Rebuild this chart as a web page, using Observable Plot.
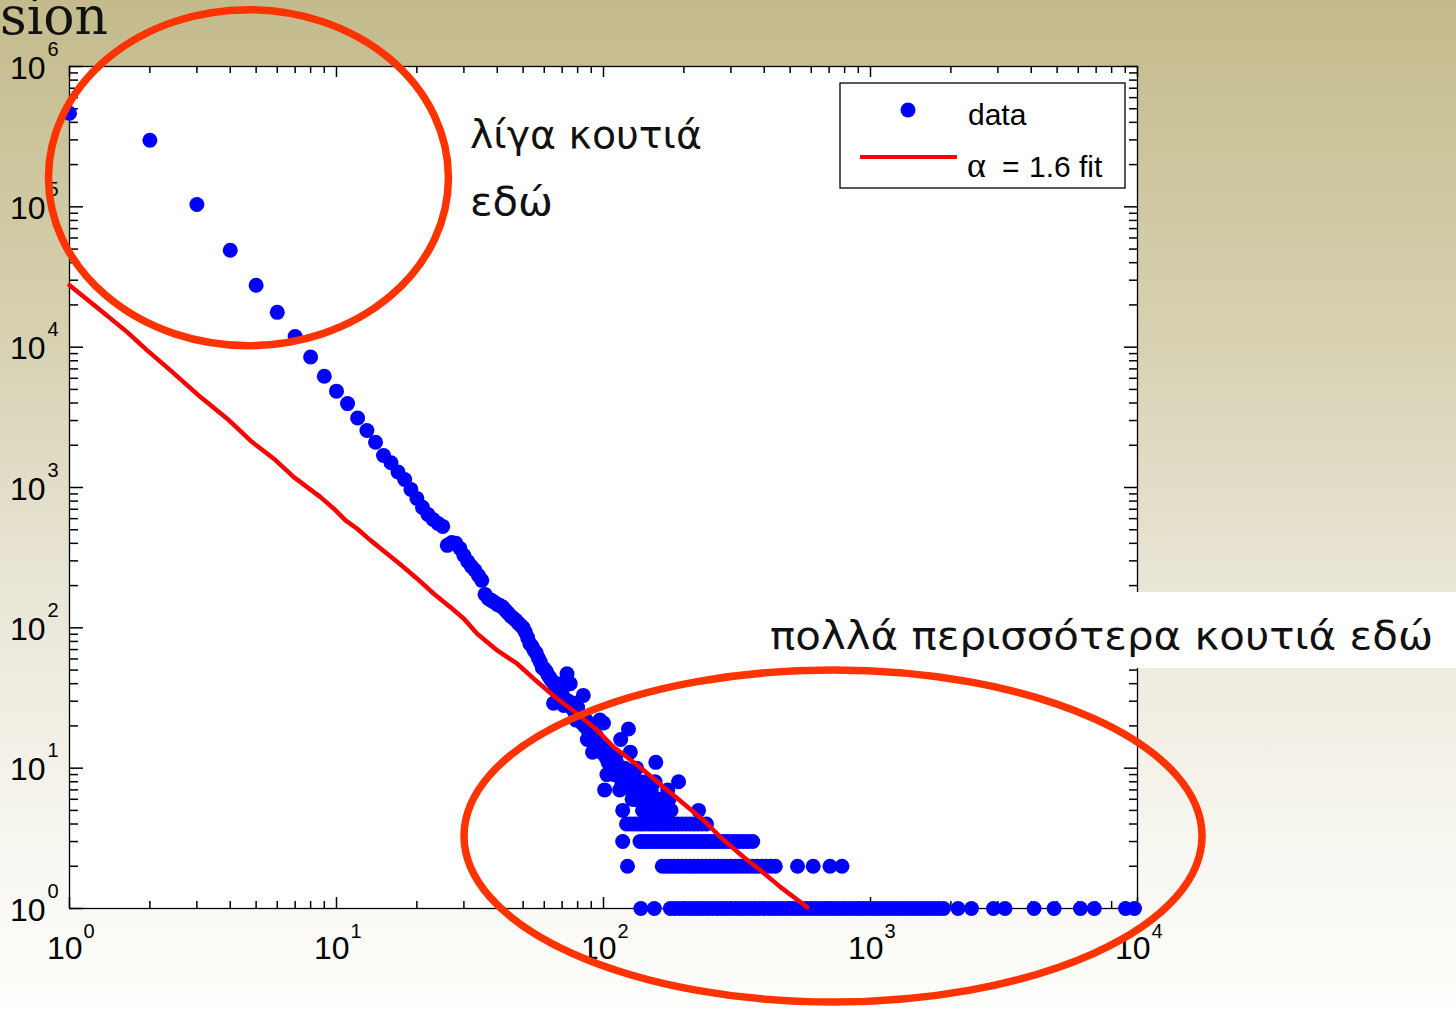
<!DOCTYPE html>
<html>
<head>
<meta charset="utf-8">
<script src="https://cdn.jsdelivr.net/npm/d3@7"></script>
<script src="https://cdn.jsdelivr.net/npm/@observablehq/plot@0.6"></script>
<style>
  html, body { margin: 0; padding: 0; }
  body {
    width: 1456px; height: 1009px; overflow: hidden; position: relative;
    background: linear-gradient(to bottom, #c3bb8b 0%, #d7d1b1 33%, #ebe7d9 60%, #f8f7f1 85%, #fefefc 100%);
    font-family: "Liberation Sans", Arial, sans-serif;
  }
  #chart { position: absolute; left: 0; top: 0; }
</style>
</head>
<body>
<div id="chart"></div>
<script>
// Degree histogram: head of the distribution, one count per integer degree k
const headK = [1,2,3,4,5,6,7,8,9,10,11,12,13,14,15,16,17,18,19,20,21,22,23,24,25,26,27,28,29,30,
  31,32,33,34,35,36,37,38,39,40,41,42,43,44,45,46,47,48,49,50,51,52,53,54,55,56,57,58,59,60,61,62];
const headN = [464000,298000,104000,49000,27600,17700,11900,8500,6200,4860,3960,3130,2550,2100,1690,1500,1290,1140,969,836,
  722,643,592,555,528,387,406,400,368,328,297,274,257,236,218,173,162,157,152,147,144,140,133,127,121,117,113,108,104,100,
  93,85,77,74,69,66,61,57,52,51,49,46];

// Noisy middle part (counts of 5 and more)
const tailK = [63,64,65,66,67,68,69,70,71,72,73,74,75,76,77,78,79,80,81,82,83,84,85,86,87,88,89,90,91,92,93,94,95,96,97,98,99,100,
  101,102,103,104,105,106,107,108,109,110,111,112,113,114,115,116,117,118,119,120,121,123,124,125,126,127,128,129,130,131,132,133,
  134,135,136,137,139,140,141,143,144,145,146,148,149,150,151,153,154,155,156,157,158,160,161,164,168,169,171,174,176,179,191,227];
const tailN = [44,42,29,38,40,35,33,36,28,31,47,30,40,27,29,25,22,27,24,23,21,33,20,22,16,18,19,17,13,16,15,17,14,15,22,13,14,21,
  7,12,9,11,13,12,10,11,10,9,12,11,9,10,7,16,8,5,9,10,8,9,19,8,13,7,6,8,6,7,6,10,
  6,7,6,8,6,5,7,5,8,6,7,6,5,5,7,6,5,6,8,11,6,5,6,5,6,5,5,7,6,5,8,5];

// Sparse tail: degrees observed exactly 4, 3, 2 and 1 times
const row4K = [122,126,130,134,138,142,147,152,157,162,167,172,178,184,190,197,204,211,218,226,234,243];
const row3K = [118,137,141,146,151,156,161,166,172,178,184,190,197,204,211,218,226,234,242,251,260,269,279,289,300,311,323,335,348,362];
const row2K = [123,166,172,178,184,190,197,204,211,218,226,234,242,251,260,269,279,289,300,311,323,335,348,362,376,391,406,422,440,533,610,705,782];
const row1K = [138,155,178,185,193,201,209,218,227,236,246,256,267,278,289,301,314,327,340,354,369,384,400,417,434,452,471,490,511,
  532,554,577,601,626,652,679,707,737,767,799,832,867,903,940,979,1020,1062,1106,1152,1200,1250,1302,1356,1412,1471,1532,1596,
  1662,1731,1803,1878,2128,2389,2888,3189,4098,4871,6115,6889,9017,9745];

// Power-law fit, alpha = 1.6
const fitK = [1,1.306,1.645,1.954,2.389,3.095,3.896,4.833,5.824,6.921,8.71,9.77,10.81,11.95,13.41,15.48,17.36,20.05,23.14,26.7,
  30.0,33.65,40.0,47.5,54.8,67.1,79.7,94.7,109.3,122.7,141.6,168.2,199.8,237.5,274.3,335.3,387.3,460.3,579.4];
const fitN = [27580,18300,12800,9490,6832,4410,3093,2107,1605,1186,854,706,583,508,420,337.5,283,224,175,140.4,
  116,90.8,69,55.5,43.4,31.2,24.4,18.6,14.1,11.98,9.63,7.32,5.58,4.24,3.22,2.32,1.87,1.42,1.02];

// Axis decades
const xDecades = [0,1,2,3,4];
const yDecades = [0,1,2,3,4,5,6];
const minorSteps = [2,3,4,5,6,7,8,9];

// Legend and annotation text
const legendLabels = ["data", "1.6 fit"];
const noteFew = ["λίγα κουτιά", "εδώ"];
const noteMany = "πολλά περισσότερα κουτιά εδώ";
const titleTail = "sion";

// ---- build tables ----
const points = [
  ...headK.map((k, i) => ({k, n: headN[i]})),
  ...tailK.map((k, i) => ({k, n: tailN[i]})),
  ...row4K.map(k => ({k, n: 4})),
  ...row3K.map(k => ({k, n: 3})),
  ...row2K.map(k => ({k, n: 2})),
  ...row1K.map(k => ({k, n: 1}))
];
const fit = fitK.map((k, i) => ({k, n: fitN[i]}));

const xMajor = xDecades.map(d => 10 ** d);
const yMajor = yDecades.map(d => 10 ** d);
const xMinor = xDecades.slice(0, -1).flatMap(d => minorSteps.map(m => m * 10 ** d));
const yMinor = yDecades.slice(0, -1).flatMap(d => minorSteps.map(m => m * 10 ** d));

const W = 1456, H = 1009;
const M = {top: 66, right: 319, bottom: 101, left: 69};
const innerW = W - M.left - M.right;
const innerH = H - M.top - M.bottom;
const tickFont = "Liberation Sans, Arial, sans-serif";
const ink = "#000";

const chart = Plot.plot({
  width: W, height: H,
  marginTop: M.top, marginRight: M.right, marginBottom: M.bottom, marginLeft: M.left,
  style: {background: "transparent", overflow: "visible"},
  x: {type: "log", domain: [1, 1e4], axis: null},
  y: {type: "log", domain: [1, 1e6], axis: null},
  marks: [
    Plot.frame({fill: "white", stroke: "none"}),
    // inward ticks on all four sides
    Plot.ruleX(xMajor, {insetTop: innerH - 11, stroke: ink, strokeWidth: 1.5}),
    Plot.ruleX(xMinor, {insetTop: innerH - 7, stroke: ink, strokeWidth: 1.5}),
    Plot.ruleX(xMajor, {insetBottom: innerH - 11, stroke: ink, strokeWidth: 1.5}),
    Plot.ruleX(xMinor, {insetBottom: innerH - 7, stroke: ink, strokeWidth: 1.5}),
    Plot.ruleY(yMajor, {insetRight: innerW - 14, stroke: ink, strokeWidth: 1.5}),
    Plot.ruleY(yMinor, {insetRight: innerW - 9, stroke: ink, strokeWidth: 1.5}),
    Plot.ruleY(yMajor, {insetLeft: innerW - 13, stroke: ink, strokeWidth: 1.5}),
    Plot.ruleY(yMinor, {insetLeft: innerW - 8, stroke: ink, strokeWidth: 1.5}),
    Plot.frame({stroke: ink, strokeWidth: 1.3}),
    // data and fit
    Plot.dot(points, {x: "k", y: "n", r: 7.5, fill: "#0000ff", stroke: "none"}),
    Plot.line(fit, {x: "k", y: "n", stroke: "#ff0000", strokeWidth: 4.5, curve: "linear"}),
    // tick labels 10^k
    Plot.text(xMajor, {x: d => d, frameAnchor: "bottom", text: () => "10", textAnchor: "end", lineAnchor: "bottom",
      dx: 13, dy: 50, fontSize: 32, fontFamily: tickFont, fill: ink}),
    Plot.text(xMajor, {x: d => d, frameAnchor: "bottom", text: d => String(Math.round(Math.log10(d))), textAnchor: "start",
      lineAnchor: "bottom", dx: 14, dy: 29, fontSize: 20, fontFamily: tickFont, fill: ink}),
    Plot.text(yMajor, {y: d => d, frameAnchor: "left", text: () => "10", textAnchor: "end", lineAnchor: "bottom",
      dx: -24, dy: 12, fontSize: 32, fontFamily: tickFont, fill: ink}),
    Plot.text(yMajor, {y: d => d, frameAnchor: "left", text: d => String(Math.round(Math.log10(d))), textAnchor: "start",
      lineAnchor: "bottom", dx: -22, dy: -11, fontSize: 20, fontFamily: tickFont, fill: ink})
  ]
});

document.getElementById("chart").appendChild(chart);

const sx = chart.scale("x"), sy = chart.scale("y");
const svg = d3.select(chart);

// legend box
const lg = svg.append("g").attr("text-anchor", "start");
lg.append("rect").attr("x", 840).attr("y", 83).attr("width", 285).attr("height", 105)
  .attr("fill", "white").attr("stroke", ink).attr("stroke-width", 1.3);
lg.append("circle").attr("cx", 908).attr("cy", 110).attr("r", 7.5).attr("fill", "#0000ff");
lg.append("line").attr("x1", 860).attr("x2", 957).attr("y1", 157).attr("y2", 157)
  .attr("stroke", "#ff0000").attr("stroke-width", 4);
lg.append("text").attr("x", 968).attr("y", 125).attr("font-family", tickFont).attr("font-size", 30).text(legendLabels[0]);
lg.append("text").attr("x", 967).attr("y", 177).attr("font-family", "Liberation Serif, serif").attr("font-size", 36).text("α");
lg.append("text").attr("x", 1002).attr("y", 177).attr("font-family", tickFont).attr("font-size", 30).text("=");
lg.append("text").attr("x", 1029).attr("y", 177).attr("font-family", tickFont).attr("font-size", 30).text(legendLabels[1]);

// slide title fragment
svg.append("text").attr("text-anchor", "start").attr("x", 0).attr("y", 34).attr("font-family", "DejaVu Serif, serif")
  .attr("font-size", 52).attr("fill", "#111").text(titleTail);

// annotations
const noteFont = "DejaVu Sans, Verdana, sans-serif";
const an = svg.append("g").attr("text-anchor", "start");
an.append("rect").attr("x", 760).attr("y", 592).attr("width", 700).attr("height", 76).attr("fill", "white");
const note = (x, y, txt, len) => an.append("text").attr("x", x).attr("y", y)
  .attr("font-family", noteFont).attr("font-size", 39).attr("fill", "#111")
  .attr("textLength", len).attr("lengthAdjust", "spacingAndGlyphs").text(txt);
note(770, 649, noteMany, 663);
note(470, 148, noteFew[0], 232);
note(470, 215, noteFew[1], 83);

// highlight ellipses around the head and the tail of the histogram
const ring = {stroke: "#ff3300", width: 7.5};
an.append("ellipse").attr("cx", sx.apply(4.7)).attr("cy", sy.apply(1.6e5)).attr("rx", 200).attr("ry", 168)
  .attr("fill", "none").attr("stroke", ring.stroke).attr("stroke-width", ring.width);
an.append("ellipse").attr("cx", sx.apply(727)).attr("cy", sy.apply(3.26)).attr("rx", 369).attr("ry", 166)
  .attr("fill", "none").attr("stroke", ring.stroke).attr("stroke-width", ring.width);
</script>
</body>
</html>
